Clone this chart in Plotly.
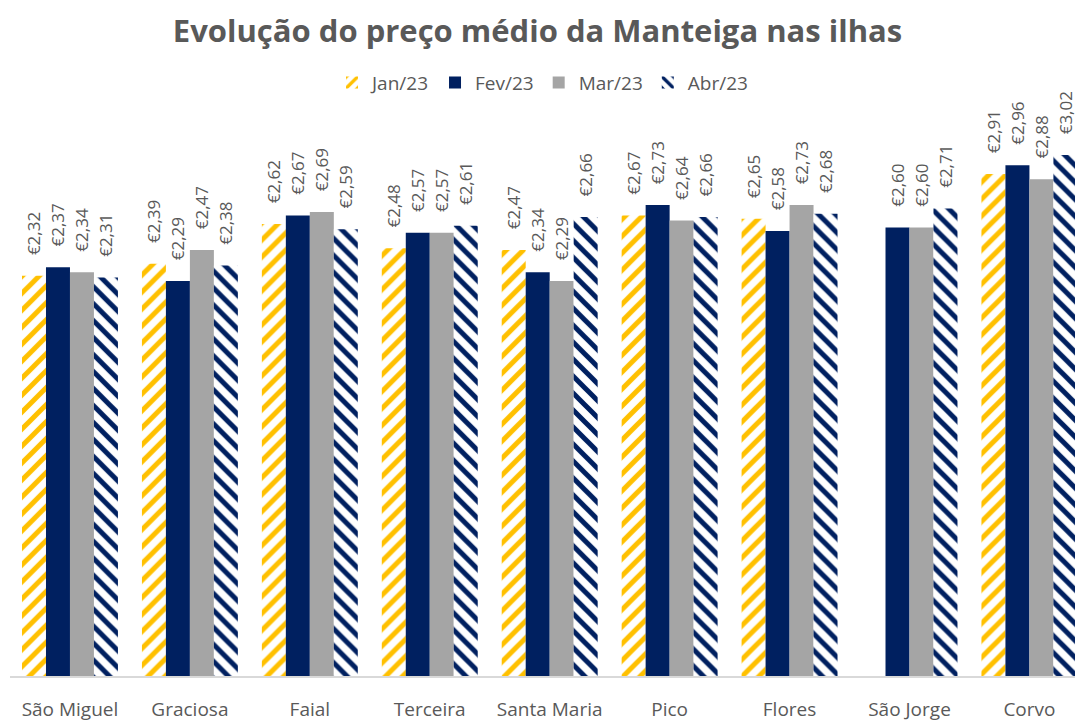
import plotly.graph_objects as go

ilhas = ["São Miguel", "Graciosa", "Faial", "Terceira", "Santa Maria",
         "Pico", "Flores", "São Jorge", "Corvo"]
jan23 = [2.32, 2.39, 2.62, 2.48, 2.47, 2.67, 2.65, None, 2.91]
fev23 = [2.37, 2.29, 2.67, 2.57, 2.34, 2.73, 2.58, 2.60, 2.96]
mar23 = [2.34, 2.47, 2.69, 2.57, 2.29, 2.64, 2.73, 2.60, 2.88]
abr23 = [2.31, 2.38, 2.59, 2.61, 2.66, 2.66, 2.68, 2.71, 3.02]

series_names = ["Jan/23", "Fev/23", "Mar/23", "Abr/23"]

FONT = "Open Sans"
GREY_TXT = "#595959"
YELLOW = "#FFC000"
NAVY = "#002060"
GREY = "#A5A5A5"

def lbl(vals):
    return ["\u00a0\u00a0\u00a0\u00a0€" + f"{v:.2f}".replace(".", ",") if v is not None else "" for v in vals]

fig = go.Figure()
styles = [
    dict(marker=dict(color="white", pattern=dict(shape="/", fgcolor=YELLOW, bgcolor="white",
                                                  size=12, solidity=0.42, fillmode="replace",
                                                  fgopacity=1),
                     line=dict(width=0))),
    dict(marker=dict(color=NAVY, line=dict(width=0))),
    dict(marker=dict(color=GREY, line=dict(width=0))),
    dict(marker=dict(color="white", pattern=dict(shape="\\", fgcolor=NAVY, bgcolor="white",
                                                  size=12, solidity=0.42, fillmode="replace",
                                                  fgopacity=1),
                     line=dict(width=0))),
]
for name, vals, st in zip(series_names, [jan23, fev23, mar23, abr23], styles):
    fig.add_trace(go.Bar(
        x=ilhas, y=vals, name=name, text=lbl(vals),
        textposition="outside", textangle=-90, cliponaxis=False,
        constraintext="none",
        textfont=dict(family=FONT, size=17, color=GREY_TXT),
        **st,
    ))

fig.update_layout(
    width=1075, height=722,
    barmode="group", bargap=0.2, bargroupgap=0,
    plot_bgcolor="white", paper_bgcolor="white",
    margin=dict(l=10, r=0, t=100, b=46),
    title=dict(text="<b>Evolução do preço médio da Manteiga nas ilhas</b>",
               x=0.5, xanchor="center", y=0.972, yanchor="top",
               font=dict(family=FONT, size=31, color=GREY_TXT)),
    legend=dict(orientation="h", x=0.5, xanchor="center", y=0.912, yref="container",
                yanchor="top", font=dict(family=FONT, size=19, color=GREY_TXT),
                traceorder="normal", itemwidth=30),
    showlegend=True,
    xaxis=dict(range=[-0.5, 8.38], showline=True, linecolor="#D9D9D9", linewidth=1.5,
               ticks="", tickfont=dict(family=FONT, size=19, color=GREY_TXT),
               ticklabelstandoff=15, showgrid=False),
    yaxis=dict(range=[0, 3.33], visible=False, showgrid=False, zeroline=False),
)
fig.write_html("out.html", config={"displayModeBar": False},
               post_script="document.body.style.margin='0';")
